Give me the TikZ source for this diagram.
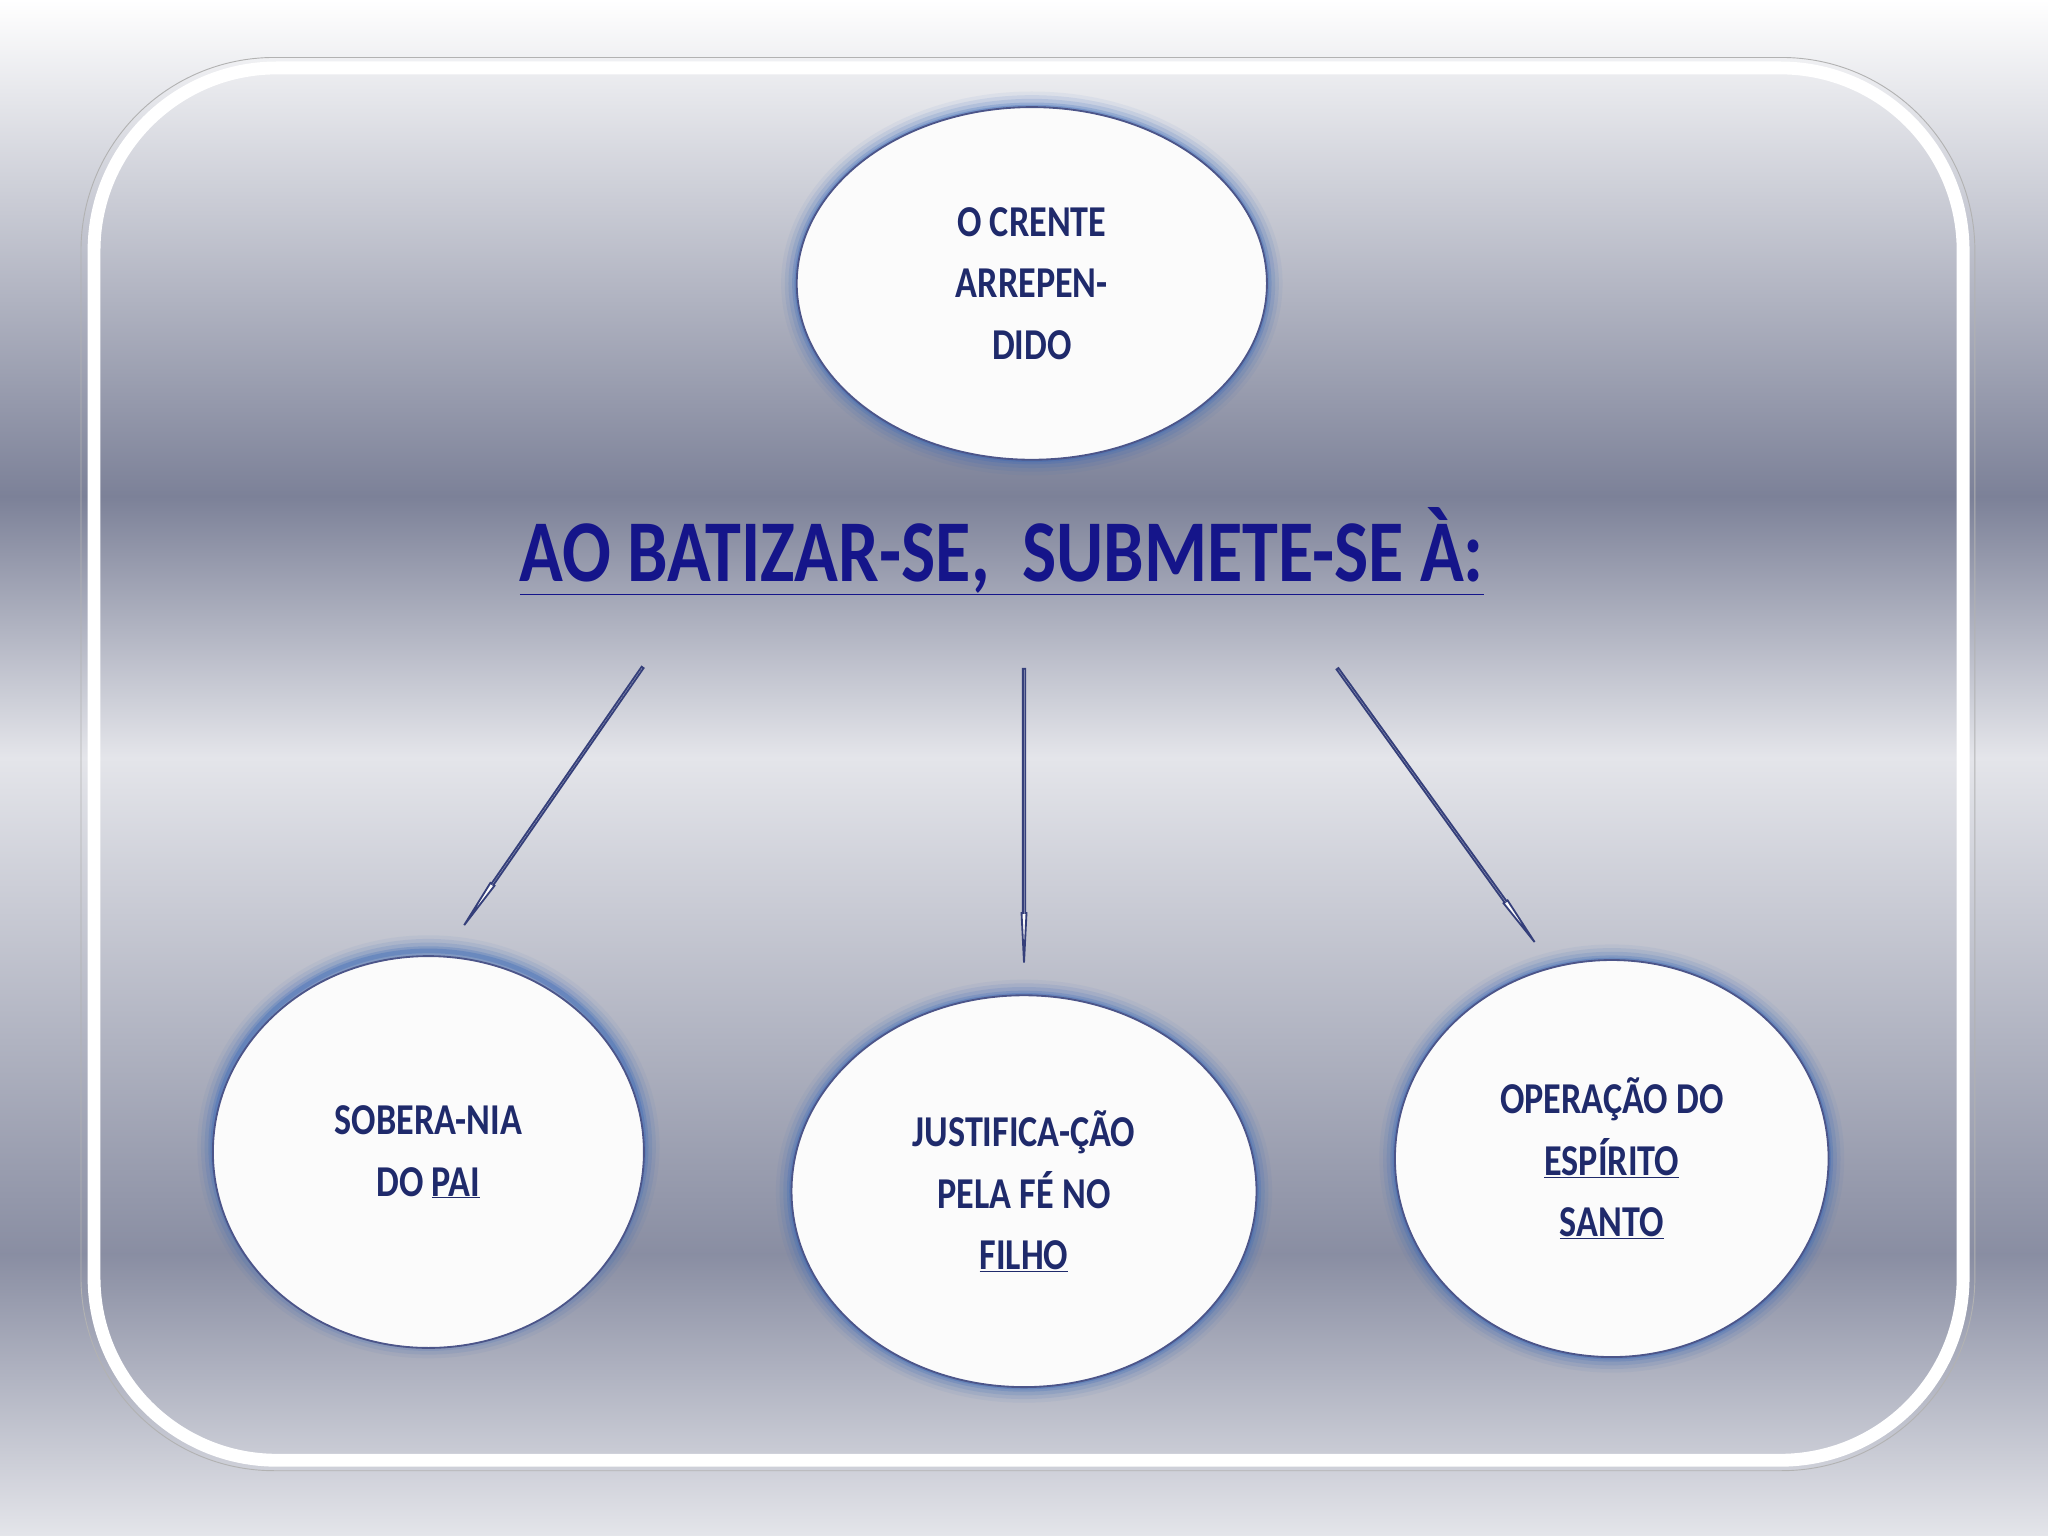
\documentclass[tikz,border=0pt]{standalone}
\usepackage{fontspec}
\setmainfont{Carlito}
\newfontfamily\cond[FakeStretch=0.82]{Carlito}
\usetikzlibrary{shapes.geometric}
\definecolor{navy}{HTML}{1F2A6B}
\definecolor{ttl}{HTML}{15158A}
\definecolor{glow}{HTML}{3566B8}
\definecolor{bgd}{HTML}{7C8198}
\definecolor{bgl}{HTML}{E4E5EA}
\begin{document}
\begin{tikzpicture}[x=0.05cm,y=-0.05cm,
  bub/.style={ellipse,draw=navy!80,line width=2pt,fill=white!97!gray,align=center,text=navy,
    font=\cond\bfseries\fontsize{48}{67}\selectfont},
  blk/.style={draw=navy!90,line width=2pt,fill=white!97!gray,line join=miter}]
\useasboundingbox (0,0) rectangle (1568,1176);
\fill[top color=white,bottom color=bgd] (0,0) rectangle (1568,380);
\fill[top color=bgd,bottom color=bgl] (0,380) rectangle (1568,580);
\fill[top color=bgl,bottom color=bgd!90] (0,580) rectangle (1568,960);
\fill[top color=bgd!90,bottom color=bgl] (0,960) rectangle (1568,1176);
\draw[white,line width=14pt,rounded corners=7cm] (72,52) rectangle (1503,1118);
\draw[gray!60,line width=1pt,rounded corners=7.4cm] (62,44) rectangle (1512,1126);
\foreach \c/\rx/\ry/\n in {{790,217}/180/135/a,{328,878}/165/150/b,{784,912}/178/150/c,{1234,887}/166/152/d}{
  \foreach \w/\o in {34/0.06,26/0.1,18/0.14,10/0.22,5/0.3}
    \draw[glow,line width=\w pt,opacity=\o] (\c) ellipse ({\rx} and {\ry});
}
\node[bub,minimum width=18cm,minimum height=13.5cm] (top) at (790,217) {O CRENTE\\ARREPEN-\\DIDO};
\node[bub,minimum width=16.5cm,minimum height=15cm] (pai) at (328,882) {SOBERA-NIA\\DO \underline{PAI}};
\node[bub,minimum width=17.8cm,minimum height=15cm] (filho) at (784,912) {JUSTIFICA-ÇÃO\\PELA FÉ NO\\\underline{FILHO}};
\node[bub,minimum width=16.6cm,minimum height=15.2cm] (esp) at (1234,887) {OPERAÇÃO DO\\\underline{ESPÍRITO}\\\underline{SANTO}};
\node[text=ttl,font=\cond\bfseries\fontsize{96}{110}\selectfont] (title) at (767,422) {\underline{AO BATIZAR-SE,\ \ SUBMETE-SE À:}};
\foreach \s/\a/\L/\n in {{492,511}/235.3/240/a1,{784,512}/270/225/a2,{1024,512}/305.8/258/a3}{
  \draw[blk,shift={(\s)},rotate=\a] (0,0.9) -- (\L-38,0.9) -- (\L-38,1.9) -- (\L,0) -- (\L-38,-1.9) -- (\L-38,-0.9) -- (0,-0.9) -- cycle;
}
\end{tikzpicture}
\end{document}
